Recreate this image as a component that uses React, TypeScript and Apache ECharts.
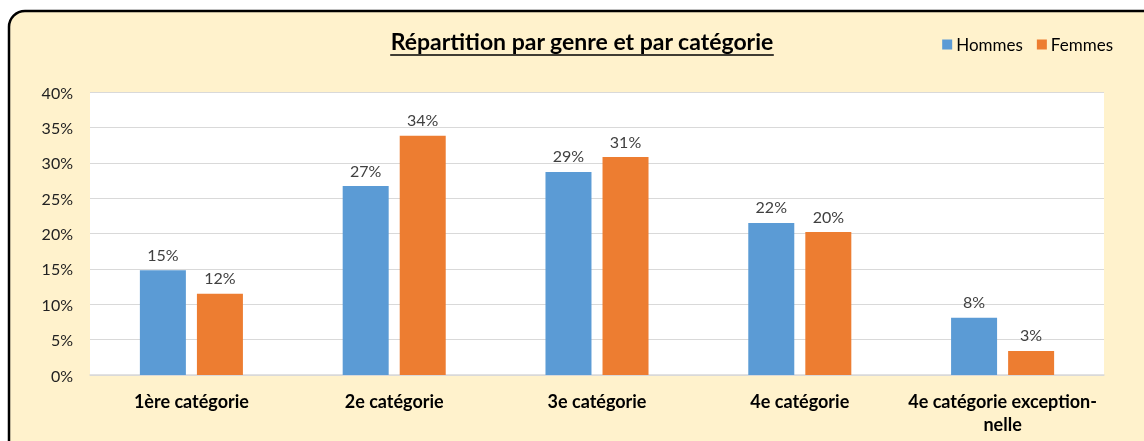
import React, { useEffect, useRef } from "react";
import * as echarts from "echarts";

const categories = [
  "1ère catégorie",
  "2e catégorie",
  "3e catégorie",
  "4e catégorie",
  "4e catégorie exception-\nnelle",
];
const hommes = [14.8, 26.7, 28.7, 21.5, 8.1];
const femmes = [11.5, 33.8, 30.8, 20.2, 3.4];
const yTicks = [0, 5, 10, 15, 20, 25, 30, 35, 40];
const title = "Répartition par genre et par catégorie";

const FONT = "Lato";

export default function App() {
  const ref = useRef<HTMLDivElement>(null);
  useEffect(() => {
    if (!ref.current) return;
    const chart = echarts.init(ref.current, null, { renderer: "svg" });
    const titleFont = `bold 23px ${FONT}`;
    const ctx = document.createElement("canvas").getContext("2d")!;
    ctx.font = titleFont;
    const tw = ctx.measureText(title).width;
    const tcx = 582;
    const tY = 41;
    const labelStyle = {
      show: true,
      position: "top",
      distance: 8,
      fontFamily: FONT,
      fontSize: 16,
      color: "#404040",
      formatter: (p: any) => `${Math.round(p.value)}%`,
    };
    chart.setOption({
      animation: false,
      graphic: [
        {
          type: "rect",
          z: -10,
          silent: true,
          shape: { x: 9, y: 11, width: 1170, height: 460, r: 16 },
          style: { fill: "#FFF2CC", stroke: "#000000", lineWidth: 2.5 },
        },
        {
          type: "text",
          x: tcx,
          y: tY,
          style: {
            text: title,
            font: titleFont,
            fill: "#000000",
            align: "center",
            verticalAlign: "middle",
          },
        },
        {
          type: "line",
          shape: { x1: tcx - tw / 2, y1: tY + 14, x2: tcx + tw / 2, y2: tY + 14 },
          style: { stroke: "#000000", lineWidth: 1.5 },
        },
      ],
      legend: {
        data: ["Hommes", "Femmes"],
        right: 26,
        top: 31,
        icon: "rect",
        itemWidth: 10,
        itemHeight: 10,
        itemGap: 14,
        textStyle: { fontFamily: FONT, fontSize: 17, color: "#000000", padding: [0, 0, 0, -1] },
      },
      grid: {
        left: 90,
        right: 40,
        top: 92,
        bottom: 66,
        show: true,
        backgroundColor: "#ffffff",
        borderWidth: 0,
      },
      xAxis: {
        type: "category",
        data: categories,
        axisTick: { show: false },
        axisLine: { lineStyle: { color: "#d9d9d9", width: 1.5 } },
        axisLabel: {
          interval: 0,
          fontFamily: FONT,
          fontWeight: "bold",
          fontSize: 18,
          color: "#000000",
          margin: 14,
          lineHeight: 23,
        },
      },
      yAxis: {
        type: "value",
        min: 0,
        max: 40,
        interval: 5,
        axisLine: { show: false },
        axisTick: { show: false },
        splitLine: { lineStyle: { color: "#d9d9d9", width: 1 } },
        axisLabel: {
          fontFamily: FONT,
          fontSize: 16,
          color: "#222222",
          margin: 17,
          formatter: (v: number) => (yTicks.includes(v) ? `${v}%` : ""),
        },
      },
      series: [
        {
          name: "Hommes",
          type: "bar",
          data: hommes,
          barWidth: 46,
          barGap: "24%",
          itemStyle: { color: "#5B9BD5" },
          label: labelStyle,
        },
        {
          name: "Femmes",
          type: "bar",
          data: femmes,
          barWidth: 46,
          itemStyle: { color: "#ED7D31" },
          label: labelStyle,
        },
      ],
    });
    return () => chart.dispose();
  }, []);
  return (
    <div
      ref={ref}
      style={{ position: "fixed", left: 0, top: 0, width: 1144, height: 441 }}
    />
  );
}
